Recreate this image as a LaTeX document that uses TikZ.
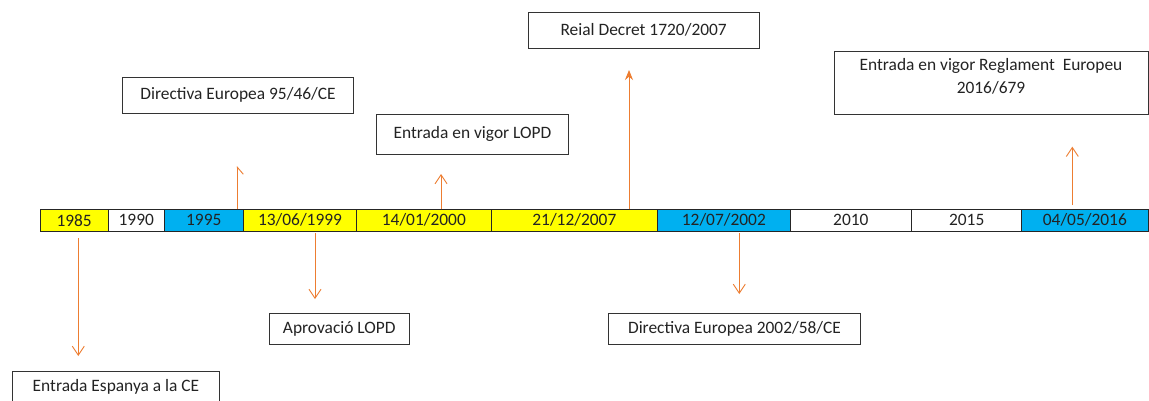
\documentclass[tikz,border=0pt]{standalone}
\usepackage{fontspec}
\setmainfont{Carlito}
\usetikzlibrary{arrows.meta}
\definecolor{tlyellow}{RGB}{255,255,0}
\definecolor{tlblue}{RGB}{0,176,240}
\definecolor{arrcol}{RGB}{237,125,49}
\definecolor{txtcol}{RGB}{35,35,35}
\begin{document}
\begin{tikzpicture}[x=1pt,y=-1pt,
  cell/.style={draw=black!85, line width=0.9pt, minimum height=21.7pt, inner sep=0pt,
    font=\fontsize{17.4}{20}\selectfont, text=txtcol},
  ybox/.style={cell, fill=tlyellow},
  bbox/.style={cell, fill=tlblue},
  wbox/.style={cell, fill=white},
  evbox/.style={draw=black!80, line width=0.9pt, fill=white, inner sep=0pt,
    font=\fontsize{17.4}{23}\selectfont, text=txtcol, align=center},
  evarrow/.style={draw=arrcol, line width=0.9pt, -{Straight Barb[length=9pt,width=12pt]}},
  evarrowfill/.style={draw=arrcol, line width=0.9pt, -{Stealth[length=10pt,width=8pt]}}
]
\clip (0,0) rectangle (1149,400);
\fill[white] (0,0) rectangle (1149,400);

% timeline cells
\node[ybox, minimum width=68.3pt]  (c1)  at (74.15,220.15)  {1985};
\node[wbox, minimum width=56pt]    (c2)  at (136.3,220.15)  {1990};
\node[bbox, minimum width=79pt]    (c3)  at (203.8,220.15)  {1995};
\node[ybox, minimum width=113.4pt] (c4)  at (300,220.15)    {13/06/1999};
\node[ybox, minimum width=134.3pt] (c5)  at (423.85,220.15) {14/01/2000};
\node[ybox, minimum width=166.7pt] (c6)  at (574.35,220.15) {21/12/2007};
\node[bbox, minimum width=132.3pt] (c7)  at (723.85,220.15) {12/07/2002};
\node[wbox, minimum width=121.7pt] (c8)  at (850.85,220.15) {2010};
\node[wbox, minimum width=110pt]   (c9)  at (966.7,220.15)  {2015};
\node[bbox, minimum width=126.3pt] (c10) at (1084.85,220.15) {04/05/2016};

% event boxes
\node[evbox, minimum width=230.6pt, minimum height=36pt]  (b1) at (238,95.3)   {Directiva Europea 95/46/CE};
\node[evbox, minimum width=191.6pt, minimum height=39.7pt] (b2) at (472.5,134.15) {Entrada en vigor LOPD};
\node[evbox, minimum width=230.7pt, minimum height=36pt]  (b3) at (643.65,30.3) {Reial Decret 1720/2007};
\node[evbox, minimum width=314pt, minimum height=63pt, text depth=13pt] (b4) at (991,82.5) {Entrada en vigor Reglament\ \ Europeu\\2016/679};
\node[evbox, minimum width=206.6pt, minimum height=32pt]  (b5) at (116,387)    {Entrada Espanya a la CE};
\node[evbox, minimum width=140pt, minimum height=31pt]    (b6) at (339.3,328.8) {Aprovació LOPD};
\node[evbox, minimum width=252.4pt, minimum height=31pt]  (b7) at (734.5,328.8) {Directiva Europea 2002/58/CE};

% arrow end points
\coordinate (a1s) at (78.3,238);   \coordinate (a1e) at (78.3,356);
\coordinate (a2s) at (315,233);    \coordinate (a2e) at (315,299);
\coordinate (a3s) at (739.3,233);  \coordinate (a3e) at (739.3,294);
\coordinate (a4s) at (237.3,209.3);\coordinate (a4e) at (237.3,166);
\coordinate (a5s) at (441,209.3);  \coordinate (a5e) at (441,174);
\coordinate (a6s) at (629,209.3);  \coordinate (a6e) at (629,70);
\coordinate (a7s) at (1072.3,205); \coordinate (a7e) at (1072.3,146.7);

\draw[evarrow] (a1s) -- (a1e);
\draw[evarrow] (a2s) -- (a2e);
\draw[evarrow] (a3s) -- (a3e);
\draw[draw=arrcol, line width=0.9pt, -{Straight Barb[length=7pt,width=12pt,right]}] (a4s) -- (a4e);
\draw[evarrow] (a5s) -- (a5e);
\draw[evarrowfill] (a6s) -- (a6e);
\draw[evarrow] (a7s) -- (a7e);
\end{tikzpicture}
\end{document}
